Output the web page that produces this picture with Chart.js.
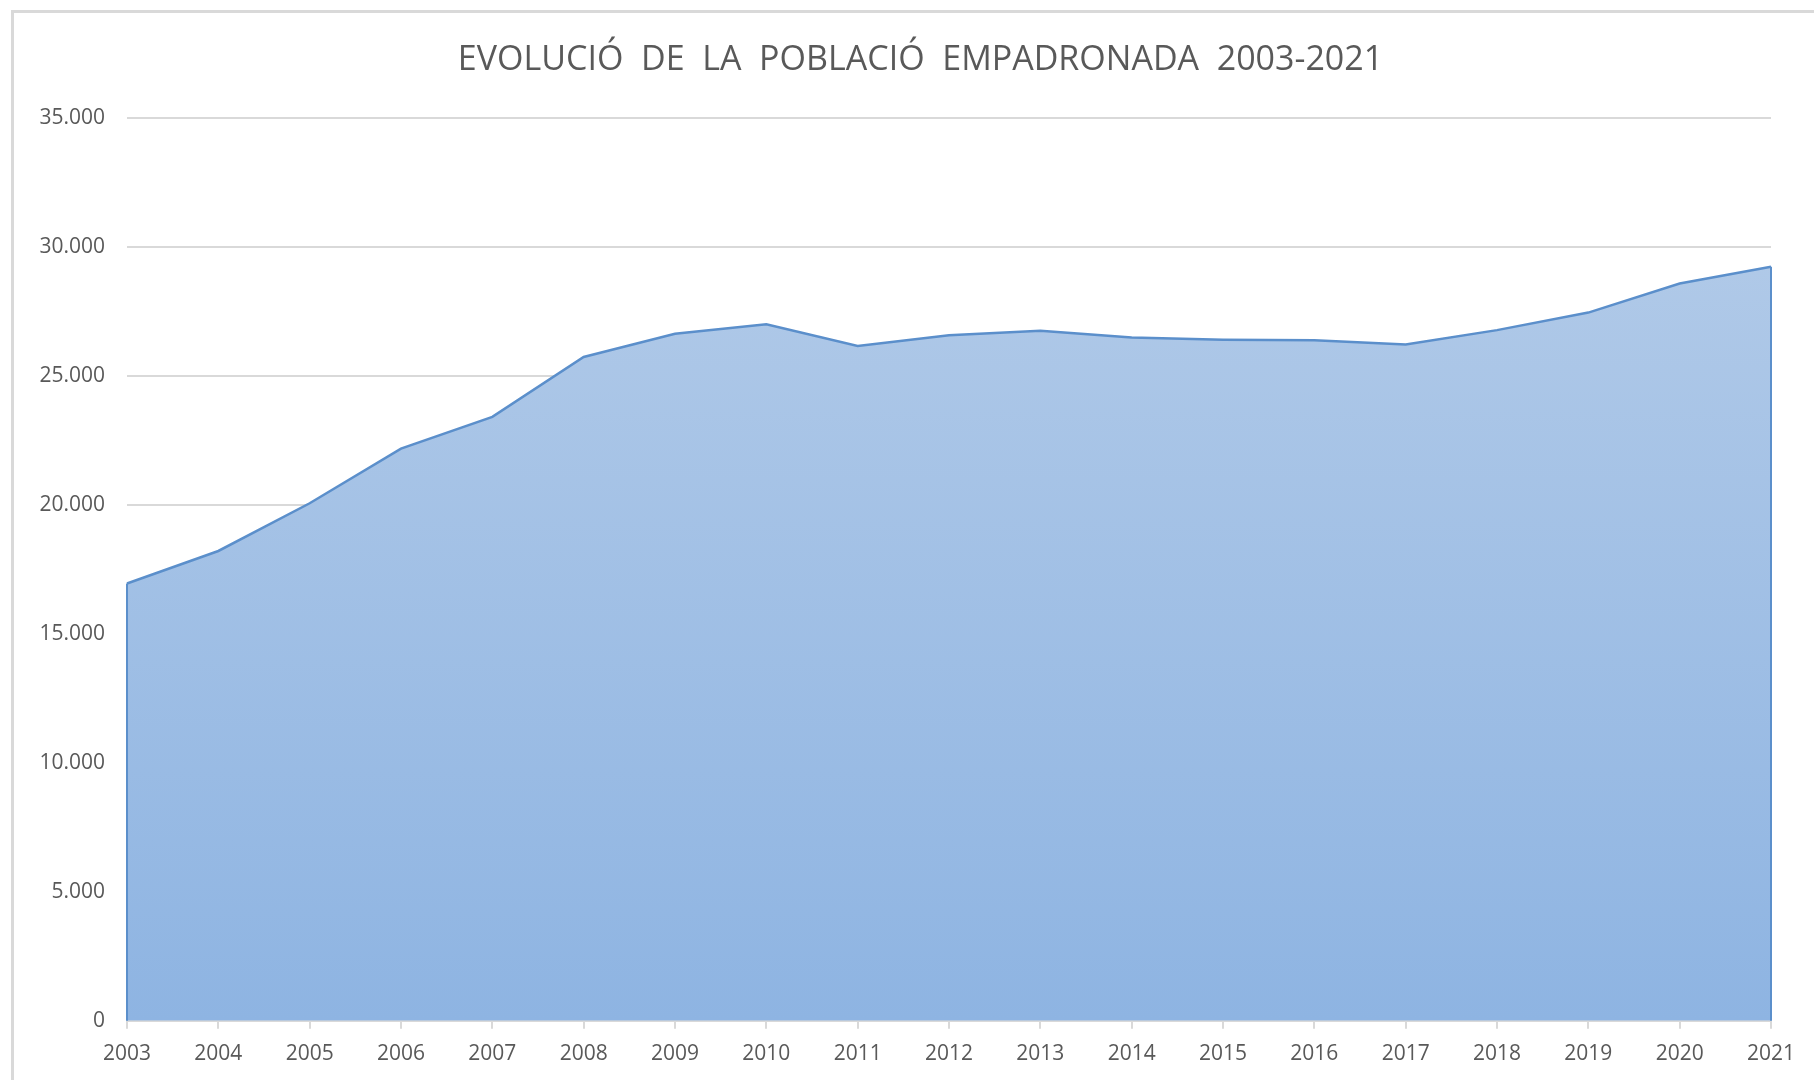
<!DOCTYPE html>
<html>
<head>
<meta charset="utf-8">
<script src="https://cdn.jsdelivr.net/npm/chart.js@4/dist/chart.umd.min.js"></script>
<style>
  html, body { margin: 0; padding: 0; background: #fff; }
  .wrap { position: relative; width: 1814px; height: 1080px; }
  .frame { position: absolute; left: 11px; top: 10px; right: -10px; bottom: -10px; border-left: 3px solid #d9d9d9; border-top: 3px solid #d9d9d9; }
  canvas { position: absolute; left: 0; top: 0; }
</style>
</head>
<body>
<div class="wrap">
  <div class="frame"></div>
  <canvas id="chart" width="1814" height="1080"></canvas>
</div>
<script>
const years = ['2003', '2004', '2005', '2006', '2007', '2008', '2009', '2010', '2011', '2012',
  '2013', '2014', '2015', '2016', '2017', '2018', '2019', '2020', '2021'];
const population = [16950, 18210, 20060, 22180, 23410, 25730, 26630, 27000, 26160, 26570,
  26750, 26480, 26400, 26380, 26210, 26770, 27450, 28580, 29230];
const yTicks = [0, 5000, 10000, 15000, 20000, 25000, 30000, 35000];

const chartTitle = 'EVOLUCIÓ  DE  LA  POBLACIÓ  EMPADRONADA  2003-2021';
const textGrey = '#595959';
const gridGrey = '#d9d9d9';
const lineBlue = '#5b8fcb';

const fmt = v => v.toLocaleString('de-DE');

// Excel draws the outline round the whole area, sides included
const areaEdges = {
  id: 'areaEdges',
  afterDatasetsDraw(chart) {
    const pts = chart.getDatasetMeta(0).data;
    const y0 = chart.scales.y.getPixelForValue(0);
    const ctx = chart.ctx;
    ctx.save();
    ctx.strokeStyle = lineBlue;
    ctx.lineWidth = 2;
    [pts[0], pts[pts.length - 1]].forEach(p => {
      ctx.beginPath();
      ctx.moveTo(p.x, p.y);
      ctx.lineTo(p.x, y0);
      ctx.stroke();
    });
    ctx.restore();
  }
};

// title sits a bit right of the canvas centre in the original
const titleShift = {
  id: 'titleShift',
  afterLayout(chart) {
    if (chart.titleBlock) chart.titleBlock.left += 40;
  }
};

const ctx = document.getElementById('chart').getContext('2d');
new Chart(ctx, {
  type: 'line',
  data: {
    labels: years,
    datasets: [{
      label: 'Població',
      data: population,
      borderColor: lineBlue,
      borderWidth: 2.5,
      pointRadius: 0,
      tension: 0,
      fill: 'origin',
      backgroundColor: (c) => {
        const area = c.chart.chartArea;
        if (!area) return '#a5c0e5';
        const g = c.chart.ctx.createLinearGradient(0, area.top, 0, area.bottom);
        g.addColorStop(0, '#b6cde9');
        g.addColorStop(1, '#8eb4e2');
        return g;
      }
    }]
  },
  options: {
    responsive: false,
    animation: false,
    layout: { padding: { left: 30, right: 43, top: 40, bottom: 0 } },
    plugins: {
      legend: { display: false },
      tooltip: { enabled: false },
      title: {
        display: true,
        text: chartTitle,
        color: textGrey,
        font: { family: 'Open Sans', size: 34, weight: 'normal' },
        padding: { top: 0, bottom: 37 }
      }
    },
    scales: {
      x: {
        grid: { drawOnChartArea: false, drawTicks: true, tickLength: 8, color: gridGrey, lineWidth: 2 },
        border: { color: gridGrey, width: 2 },
        ticks: {
          color: textGrey,
          font: { family: 'Open Sans', size: 21 },
          padding: 13,
          maxRotation: 0,
          autoSkip: false
        }
      },
      y: {
        min: 0,
        max: 35000,
        afterBuildTicks: (axis) => { axis.ticks = yTicks.map(v => ({ value: v })); },
        afterFit: (axis) => { axis.width = 97; },
        grid: { color: gridGrey, lineWidth: 2, drawTicks: false },
        border: { display: false },
        ticks: {
          color: textGrey,
          font: { family: 'Open Sans', size: 21 },
          padding: 22,
          callback: (v) => fmt(v)
        }
      }
    }
  },
  plugins: [areaEdges, titleShift]
});
</script>
</body>
</html>
